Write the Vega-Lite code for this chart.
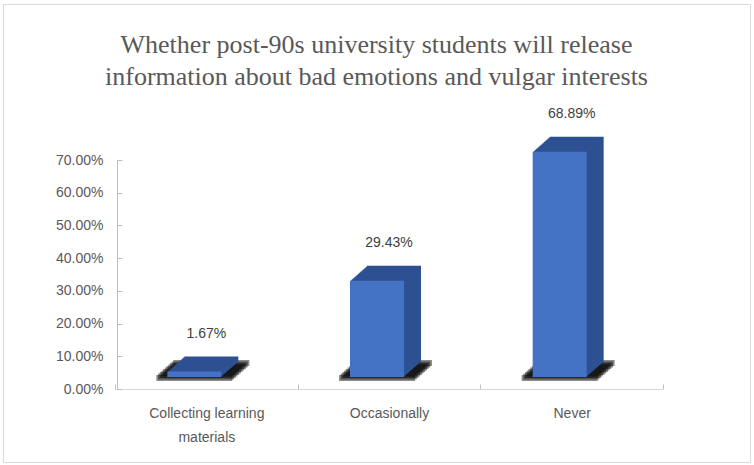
{
  "$schema": "https://vega.github.io/schema/vega-lite/v6.json",
  "autosize": {"type": "none"},
  "padding": {"left": 3, "top": 4, "right": 4, "bottom": 3},
  "width": 747,
  "height": 458,
  "background": "white",
  "config": {
    "view": {"stroke": "#D9D9D9", "strokeWidth": 1},
    "font": "Liberation Sans"
  },
  "title": {
    "text": ["Whether post-90s university students will release", "information about bad emotions and vulgar interests"],
    "font": "Liberation Serif",
    "fontSize": 26,
    "fontWeight": "normal",
    "color": "#595959",
    "anchor": "middle",
    "lineHeight": 32,
    "offset": -86
  },
  "data": {
    "values": [
      {"category": "Collecting learning materials", "value": 0.0167},
      {"category": "Occasionally", "value": 0.2943},
      {"category": "Never", "value": 0.6889}
    ]
  },
  "encoding": {
    "x": {
      "field": "category",
      "type": "nominal",
      "sort": null,
      "scale": {"range": [112, 660], "paddingInner": 0, "paddingOuter": 0},
      "axis": {
        "title": null,
        "labelAngle": 0,
        "labelColor": "#595959",
        "labelFontSize": 14,
        "labelFont": "Liberation Sans",
        "labelLineHeight": 24,
        "labelPadding": 22,
        "labelExpr": "datum.label == 'Collecting learning materials' ? ['Collecting learning', 'materials'] : datum.label",
        "domainColor": "#D9D9D9",
        "tickColor": "#BFBFBF",
        "tickBand": "extent",
        "tickSize": -5,
        "offset": -73
      }
    },
    "y": {
      "field": "value",
      "type": "quantitative",
      "scale": {"domain": [0, 0.7], "range": [385, 156], "nice": false},
      "axis": {
        "title": null,
        "values": [0, 0.1, 0.2, 0.3, 0.4, 0.5, 0.6, 0.7],
        "format": ".2%",
        "grid": false,
        "domainColor": "#BFBFBF",
        "tickColor": "#BFBFBF",
        "tickSize": -5,
        "labelColor": "#595959",
        "labelFontSize": 14,
        "labelFont": "Liberation Sans",
        "labelPadding": 19,
        "offset": -114
      }
    }
  },
  "layer": [
    {"mark": {"type": "bar", "color": "black", "opacity": 0.45, "width": 76, "xOffset": 5, "yOffset": -29, "y2Offset": -23}, "encoding": {"y": {"datum": 0}, "y2": {"datum": 0}}},
    {"mark": {"type": "bar", "color": "black", "opacity": 0.45, "width": 76, "xOffset": 3.3, "yOffset": -27.5, "y2Offset": -21.5}, "encoding": {"y": {"datum": 0}, "y2": {"datum": 0}}},
    {"mark": {"type": "bar", "color": "black", "opacity": 0.45, "width": 76, "xOffset": 1.6, "yOffset": -26, "y2Offset": -20}, "encoding": {"y": {"datum": 0}, "y2": {"datum": 0}}},
    {"mark": {"type": "bar", "color": "black", "opacity": 0.45, "width": 76, "xOffset": -0.1, "yOffset": -24.5, "y2Offset": -18.5}, "encoding": {"y": {"datum": 0}, "y2": {"datum": 0}}},
    {"mark": {"type": "bar", "color": "black", "opacity": 0.45, "width": 76, "xOffset": -1.8, "yOffset": -23, "y2Offset": -17}, "encoding": {"y": {"datum": 0}, "y2": {"datum": 0}}},
    {"mark": {"type": "bar", "color": "black", "opacity": 0.45, "width": 76, "xOffset": -3.5, "yOffset": -21.5, "y2Offset": -15.5}, "encoding": {"y": {"datum": 0}, "y2": {"datum": 0}}},
    {"mark": {"type": "bar", "color": "black", "opacity": 0.45, "width": 76, "xOffset": -5.2, "yOffset": -20, "y2Offset": -14}, "encoding": {"y": {"datum": 0}, "y2": {"datum": 0}}},
    {"mark": {"type": "bar", "color": "black", "opacity": 0.45, "width": 76, "xOffset": -6.9, "yOffset": -18.5, "y2Offset": -12.5}, "encoding": {"y": {"datum": 0}, "y2": {"datum": 0}}},
    {"mark": {"type": "bar", "color": "black", "opacity": 0.45, "width": 76, "xOffset": -8.6, "yOffset": -17, "y2Offset": -11}, "encoding": {"y": {"datum": 0}, "y2": {"datum": 0}}},
    {"mark": {"type": "bar", "color": "black", "opacity": 0.45, "width": 76, "xOffset": -10.3, "yOffset": -15.5, "y2Offset": -9.5}, "encoding": {"y": {"datum": 0}, "y2": {"datum": 0}}},
    {"mark": {"type": "bar", "color": "black", "opacity": 0.45, "width": 76, "xOffset": -12, "yOffset": -14, "y2Offset": -8}, "encoding": {"y": {"datum": 0}, "y2": {"datum": 0}}},
    {"mark": {"type": "bar", "color": "#2E5192", "width": 54, "xOffset": 5, "yOffset": -27, "y2Offset": -27}},
    {"mark": {"type": "bar", "color": "#2E5192", "width": 54, "xOffset": 3.867, "yOffset": -26, "y2Offset": -26}},
    {"mark": {"type": "bar", "color": "#2E5192", "width": 54, "xOffset": 2.733, "yOffset": -25, "y2Offset": -25}},
    {"mark": {"type": "bar", "color": "#2E5192", "width": 54, "xOffset": 1.6, "yOffset": -24, "y2Offset": -24}},
    {"mark": {"type": "bar", "color": "#2E5192", "width": 54, "xOffset": 0.467, "yOffset": -23, "y2Offset": -23}},
    {"mark": {"type": "bar", "color": "#2E5192", "width": 54, "xOffset": -0.667, "yOffset": -22, "y2Offset": -22}},
    {"mark": {"type": "bar", "color": "#2E5192", "width": 54, "xOffset": -1.8, "yOffset": -21, "y2Offset": -21}},
    {"mark": {"type": "bar", "color": "#2E5192", "width": 54, "xOffset": -2.933, "yOffset": -20, "y2Offset": -20}},
    {"mark": {"type": "bar", "color": "#2E5192", "width": 54, "xOffset": -4.067, "yOffset": -19, "y2Offset": -19}},
    {"mark": {"type": "bar", "color": "#2E5192", "width": 54, "xOffset": -5.2, "yOffset": -18, "y2Offset": -18}},
    {"mark": {"type": "bar", "color": "#2E5192", "width": 54, "xOffset": -6.333, "yOffset": -17, "y2Offset": -17}},
    {"mark": {"type": "bar", "color": "#2E5192", "width": 54, "xOffset": -7.467, "yOffset": -16, "y2Offset": -16}},
    {"mark": {"type": "bar", "color": "#2E5192", "width": 54, "xOffset": -8.6, "yOffset": -15, "y2Offset": -15}},
    {"mark": {"type": "bar", "color": "#2E5192", "width": 54, "xOffset": -9.733, "yOffset": -14, "y2Offset": -14}},
    {"mark": {"type": "bar", "color": "#2E5192", "width": 54, "xOffset": -10.867, "yOffset": -13, "y2Offset": -13}},
    {"mark": {"type": "bar", "color": "#4472C4", "width": 54, "xOffset": -12, "yOffset": -12, "y2Offset": -12}},
    {
      "mark": {"type": "text", "dy": -50, "fontSize": 14, "color": "#404040", "font": "Liberation Sans", "baseline": "middle"},
      "encoding": {"text": {"field": "value", "type": "quantitative", "format": ".2%"}}
    }
  ]
}
